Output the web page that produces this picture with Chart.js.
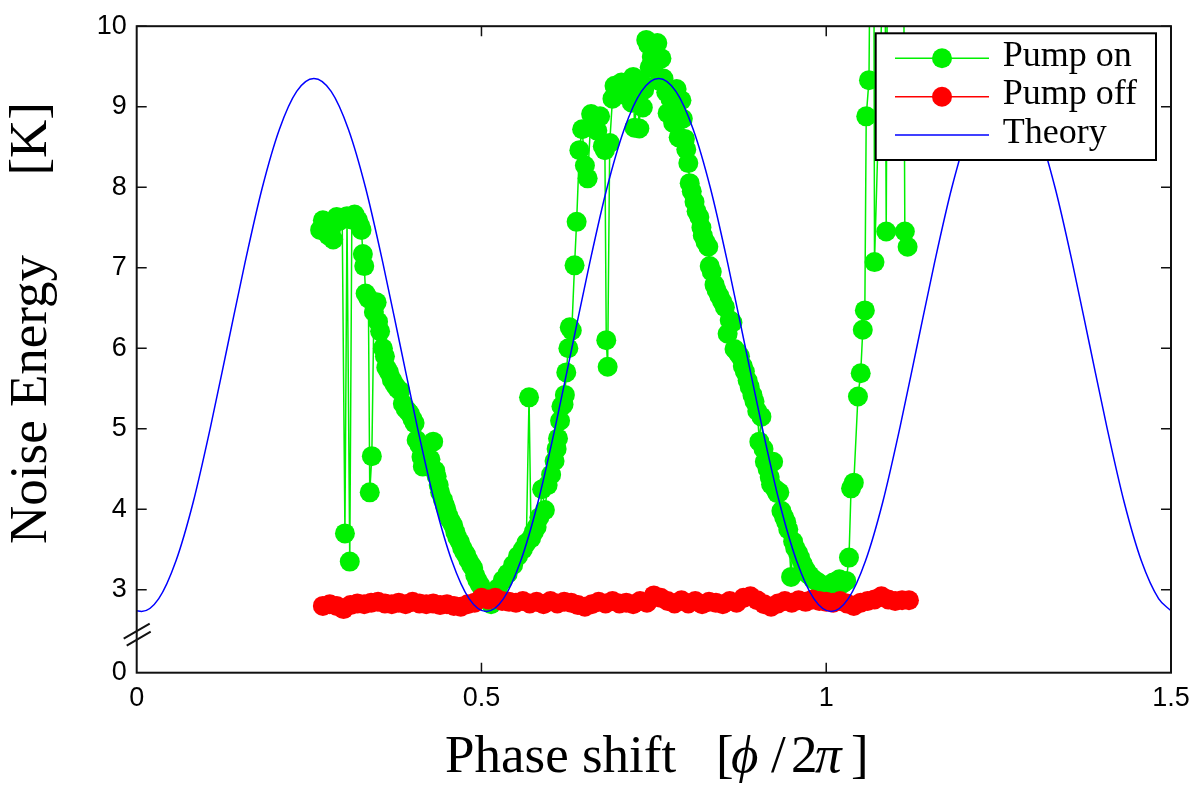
<!DOCTYPE html>
<html><head><meta charset="utf-8">
<script src="https://cdn.jsdelivr.net/npm/chart.js@4.4.1/dist/chart.umd.min.js"></script>
<style>html,body{margin:0;padding:0;background:#fff}#wrap{width:1200px;height:789px;position:relative}canvas{display:block}</style>
</head><body><div id="wrap"><canvas id="c" width="1200" height="789"></canvas></div>
<script>
// ---------- data ----------
const xTicks = [0, 0.5, 1, 1.5];
const yTicks = [3, 4, 5, 6, 7, 8, 9, 10];
const yBreakValue = 1.97;        // axis bottom, labelled "0" (broken axis)
const yBreakLabel = '0';
const seriesNames = ['Pump on', 'Pump off', 'Theory'];
const xTitleMain = 'Phase shift';
const yTitleMain = 'Noise Energy';
const yTitleUnit = '[K]';

const theoryX = [0, 0.007, 0.032, 0.057, 0.082, 0.107, 0.132, 0.157, 0.182, 0.207, 0.232, 0.257,
  0.282, 0.307, 0.332, 0.357, 0.382, 0.407, 0.432, 0.457, 0.482, 0.507,
  0.532, 0.557, 0.582, 0.607, 0.632, 0.657, 0.682, 0.707, 0.732, 0.757,
  0.782, 0.807, 0.832, 0.857, 0.882, 0.907, 0.932, 0.957, 0.982, 1.007,
  1.032, 1.057, 1.082, 1.107, 1.132, 1.157, 1.182, 1.207, 1.232, 1.257,
  1.282, 1.307, 1.332, 1.357, 1.382, 1.407, 1.432, 1.457, 1.482, 1.5];
const theoryY = [2.74, 2.73, 2.89, 3.36, 4.09, 5.02, 6.04, 7.06, 7.99, 8.72, 9.19, 9.35,
  9.19, 8.72, 7.99, 7.06, 6.04, 5.02, 4.09, 3.36, 2.89, 2.73,
  2.89, 3.36, 4.09, 5.02, 6.04, 7.06, 7.99, 8.72, 9.19, 9.35,
  9.19, 8.72, 7.99, 7.06, 6.04, 5.02, 4.09, 3.36, 2.89, 2.73,
  2.89, 3.36, 4.09, 5.02, 6.04, 7.06, 7.99, 8.72, 9.19, 9.35,
  9.19, 8.72, 7.99, 7.06, 6.04, 5.02, 4.09, 3.36, 2.89, 2.74];

const pumpOnX = [0.266, 0.270, 0.274, 0.278, 0.282, 0.285, 0.290, 0.294, 0.298, 0.302, 0.305, 0.309,
  0.312, 0.316, 0.321, 0.324, 0.326, 0.328, 0.330, 0.332, 0.336, 0.338, 0.341, 0.344,
  0.348, 0.350, 0.353, 0.357, 0.360, 0.362, 0.366, 0.370, 0.374, 0.378, 0.382, 0.386,
  0.390, 0.393, 0.396, 0.400, 0.403, 0.406, 0.410, 0.413, 0.415, 0.418, 0.422, 0.426,
  0.430, 0.433, 0.435, 0.438, 0.440, 0.444, 0.447, 0.449, 0.452, 0.455, 0.459, 0.462,
  0.465, 0.469, 0.472, 0.475, 0.478, 0.481, 0.485, 0.488, 0.491, 0.494, 0.498, 0.502,
  0.506, 0.510, 0.514, 0.518, 0.524, 0.531, 0.538, 0.546, 0.553, 0.560, 0.565, 0.569,
  0.572, 0.576, 0.580, 0.584, 0.588, 0.592, 0.596, 0.601, 0.606, 0.609, 0.611, 0.614,
  0.616, 0.619, 0.621, 0.623, 0.626, 0.628, 0.631, 0.635, 0.638, 0.642, 0.646, 0.650,
  0.654, 0.659, 0.664, 0.668, 0.672, 0.676, 0.679, 0.681, 0.683, 0.686, 0.690, 0.693,
  0.698, 0.703, 0.707, 0.710, 0.714, 0.718, 0.720, 0.722, 0.726, 0.729, 0.731, 0.734,
  0.736, 0.739, 0.742, 0.744, 0.747, 0.749, 0.752, 0.755, 0.758, 0.761, 0.764, 0.768,
  0.770, 0.774, 0.778, 0.780, 0.783, 0.786, 0.790, 0.792, 0.795, 0.797, 0.800, 0.802,
  0.805, 0.809, 0.812, 0.816, 0.819, 0.821, 0.825, 0.829, 0.831, 0.834, 0.838, 0.841,
  0.845, 0.849, 0.853, 0.857, 0.860, 0.864, 0.867, 0.871, 0.875, 0.879, 0.882, 0.886,
  0.889, 0.893, 0.896, 0.900, 0.903, 0.906, 0.909, 0.911, 0.915, 0.918, 0.920, 0.923,
  0.926, 0.929, 0.932, 0.935, 0.939, 0.942, 0.945, 0.949, 0.952, 0.955, 0.959, 0.962,
  0.966, 0.970, 0.973, 0.976, 0.980, 0.985, 0.990, 0.995, 1.000, 1.005, 1.010, 1.015,
  1.019, 1.024, 1.029, 1.033, 1.036, 1.040, 1.046, 1.050, 1.053, 1.056, 1.058, 1.062,
  1.064, 1.069, 1.070, 1.085, 1.087, 1.089, 1.112, 1.114, 1.118];
const pumpOnY = [7.47, 7.59, 7.55, 7.40, 7.48, 7.35, 7.63, 7.58, 7.62, 3.70, 7.64, 3.35,
  7.60, 7.66, 7.59, 7.52, 7.47, 7.17, 7.02, 6.68, 6.62, 4.21, 4.66, 6.45,
  6.57, 6.33, 6.21, 6.00, 5.90, 5.76, 5.70, 5.61, 5.55, 5.50, 5.47, 5.31,
  5.25, 5.22, 5.19, 5.12, 5.07, 4.86, 4.80, 4.65, 4.53, 4.58, 4.60, 4.62,
  4.84, 4.48, 4.41, 4.30, 4.21, 4.12, 4.05, 4.00, 3.92, 3.86, 3.80, 3.72,
  3.65, 3.59, 3.52, 3.47, 3.43, 3.37, 3.31, 3.27, 3.18, 3.12, 3.06, 3.00,
  2.95, 2.88, 2.82, 2.90, 3.02, 3.12, 3.20, 3.31, 3.42, 3.50, 3.58, 5.39,
  3.64, 3.72, 3.78, 3.90, 4.25, 3.99, 4.30, 4.43, 4.60, 4.75, 4.88, 5.10,
  5.28, 5.30, 5.42, 5.70, 6.00, 6.26, 6.22, 7.03, 7.57, 8.46, 8.72, 8.27,
  8.11, 8.91, 8.85, 8.70, 8.88, 8.51, 8.46, 6.10, 5.77, 8.55, 9.10, 9.26,
  9.22, 9.30, 9.15, 9.28, 9.30, 9.05, 9.37, 8.74, 9.15, 8.73, 9.32, 8.99,
  9.21, 9.83, 9.77, 9.49, 9.62, 9.51, 9.70, 9.79, 9.32, 9.60, 9.35, 9.18,
  8.92, 9.10, 8.80, 9.05, 9.22, 8.62, 9.08, 8.85, 8.60, 8.47, 8.30, 8.05,
  7.95, 7.82, 7.70, 7.63, 7.50, 7.40, 7.32, 7.26, 7.02, 6.95, 6.79, 6.72,
  6.65, 6.58, 6.51, 6.18, 6.35, 6.32, 5.99, 5.95, 5.90, 5.78, 5.71, 5.60,
  5.52, 5.42, 5.34, 5.22, 4.84, 5.15, 4.75, 4.59, 4.50, 4.40, 4.31, 4.59,
  4.25, 4.20, 4.21, 3.98, 3.90, 3.84, 3.75, 3.16, 3.60, 3.52, 3.46, 3.40,
  3.32, 3.25, 3.20, 3.18, 3.14, 3.11, 3.08, 3.05, 3.04, 3.04, 3.09, 3.10,
  3.13, 3.08, 3.11, 3.40, 4.26, 4.33, 5.40, 5.69, 6.23, 6.47, 8.88, 9.33,
  11.5, 11.5, 7.07, 11.5, 7.45, 11.5, 11.5, 7.45, 7.26];

const pumpOffX = [0.27, 0.28, 0.29, 0.30, 0.31, 0.32, 0.33, 0.34, 0.35, 0.36, 0.37, 0.38,
  0.39, 0.40, 0.41, 0.42, 0.43, 0.44, 0.45, 0.46, 0.47, 0.48, 0.49, 0.50,
  0.51, 0.52, 0.53, 0.54, 0.55, 0.56, 0.57, 0.58, 0.59, 0.60, 0.61, 0.62,
  0.63, 0.64, 0.65, 0.66, 0.67, 0.68, 0.69, 0.70, 0.71, 0.72, 0.73, 0.74,
  0.75, 0.76, 0.77, 0.78, 0.79, 0.80, 0.81, 0.82, 0.83, 0.84, 0.85, 0.86,
  0.87, 0.88, 0.89, 0.90, 0.91, 0.92, 0.93, 0.94, 0.95, 0.96, 0.97, 0.98,
  0.99, 1.00, 1.01, 1.02, 1.03, 1.04, 1.05, 1.06, 1.07, 1.08, 1.09, 1.10,
  1.11, 1.12];
const pumpOffY = [2.80, 2.82, 2.80, 2.76, 2.81, 2.83, 2.82, 2.84, 2.85, 2.83, 2.82, 2.84,
  2.82, 2.85, 2.83, 2.82, 2.83, 2.81, 2.82, 2.80, 2.79, 2.82, 2.84, 2.90,
  2.88, 2.90, 2.86, 2.85, 2.84, 2.86, 2.83, 2.85, 2.82, 2.86, 2.83, 2.85,
  2.84, 2.81, 2.79, 2.82, 2.85, 2.83, 2.86, 2.83, 2.84, 2.82, 2.86, 2.84,
  2.93, 2.90, 2.86, 2.83, 2.87, 2.83, 2.86, 2.82, 2.85, 2.84, 2.82, 2.86,
  2.84, 2.90, 2.92, 2.87, 2.82, 2.79, 2.83, 2.86, 2.84, 2.87, 2.85, 2.88,
  2.86, 2.85, 2.84, 2.86, 2.83, 2.80, 2.84, 2.86, 2.88, 2.92, 2.88, 2.86,
  2.87, 2.87];

// ---------- styles ----------
const GREEN = '#00f000', RED = '#ff0000', BLUE = '#0000ff';
const pairs = (xs, ys) => xs.map((x, i) => ({x: x, y: ys[i]}));

const boxPlugin = {
  id: 'matlabBox',
  afterDatasetsDraw(chart) {
    const ctx = chart.ctx, a = chart.chartArea;
    const xs = chart.scales.x, ys = chart.scales.y;
    ctx.save();
    // frame
    ctx.strokeStyle = '#111'; ctx.lineWidth = 2;
    ctx.strokeRect(a.left, a.top, a.right - a.left, a.bottom - a.top);
    // inward ticks
    ctx.lineWidth = 1.5;
    ctx.beginPath();
    yTicks.forEach(v => {
      const p = ys.getPixelForValue(v);
      ctx.moveTo(a.left, p); ctx.lineTo(a.left + 10, p);
      ctx.moveTo(a.right, p); ctx.lineTo(a.right - 10, p);
    });
    xTicks.slice(1, -1).forEach(v => {
      const p = xs.getPixelForValue(v);
      ctx.moveTo(p, a.bottom); ctx.lineTo(p, a.bottom - 10);
      ctx.moveTo(p, a.top); ctx.lineTo(p, a.top + 10);
    });
    ctx.stroke();
    // axis break marks
    const by = (ys.getPixelForValue(3) + a.bottom) / 2 - 0.5;
    ctx.lineWidth = 2;
    ctx.beginPath();
    ctx.moveTo(a.left - 13, by + 8); ctx.lineTo(a.left + 13, by - 7);
    ctx.moveTo(a.left - 10, by + 15); ctx.lineTo(a.left + 14, by + 1);
    ctx.stroke();

    // legend box
    const L = 875.7, T = 33.3, R = 1156, B = 160;
    ctx.fillStyle = '#fff';
    ctx.fillRect(L, T, R - L, B - T);
    ctx.strokeStyle = '#000'; ctx.lineWidth = 2;
    ctx.strokeRect(L, T, R - L, B - T);
    const rows = [
      {y: 58.3, c: GREEN, marker: true},
      {y: 96.7, c: RED, marker: true},
      {y: 135, c: BLUE, marker: false}
    ];
    ctx.font = '36px "Liberation Serif"';
    ctx.textBaseline = 'alphabetic';
    ctx.textAlign = 'left';
    rows.forEach((r, i) => {
      ctx.strokeStyle = r.c; ctx.lineWidth = 1.5;
      ctx.beginPath(); ctx.moveTo(895, r.y); ctx.lineTo(989, r.y); ctx.stroke();
      if (r.marker) {
        ctx.fillStyle = r.c;
        ctx.beginPath(); ctx.arc(942, r.y, 10, 0, Math.PI * 2); ctx.fill();
      }
      ctx.fillStyle = '#000';
      ctx.fillText(seriesNames[i], 1002.7, r.y + 7.5);
    });
    ctx.restore();
  },
  afterDraw(chart) {
    const ctx = chart.ctx;
    ctx.save();
    ctx.fillStyle = '#000';
    ctx.textBaseline = 'alphabetic';
    ctx.textAlign = 'left';
    // x title
    const up = '53px "Liberation Serif"', it = 'italic 53px "Liberation Serif"';
    ctx.font = up; ctx.fillText(xTitleMain, 445, 772);
    ctx.fillText('[', 716, 772);
    ctx.font = it; ctx.fillText('\u03D5', 731, 772);
    ctx.font = up; ctx.fillText('/', 771, 772); ctx.fillText('2', 791, 772);
    ctx.font = it; ctx.fillText('\u03C0', 815, 772);
    ctx.font = up; ctx.fillText(']', 851, 772);
    // y title (reads bottom to top)
    ctx.translate(46, 544);
    ctx.rotate(-Math.PI / 2);
    ctx.font = up;
    ctx.fillText(yTitleMain, 0, 0);
    ctx.fillText(yTitleUnit, 442 - ctx.measureText(yTitleUnit).width, 0);
    ctx.restore();
  }
};

new Chart(document.getElementById('c'), {
  type: 'line',
  data: {
    datasets: [
      {label: seriesNames[2], data: pairs(theoryX, theoryY), borderColor: BLUE, borderWidth: 1.5,
       pointRadius: 0, cubicInterpolationMode: 'monotone', order: 0},
      {label: seriesNames[1], data: pairs(pumpOffX, pumpOffY), borderColor: RED, borderWidth: 1.5,
       pointRadius: 10, pointBackgroundColor: RED, pointBorderWidth: 0, pointBorderColor: RED, order: 1},
      {label: seriesNames[0], data: pairs(pumpOnX, pumpOnY), borderColor: GREEN, borderWidth: 1.5,
       pointRadius: 10, pointBackgroundColor: GREEN, pointBorderWidth: 0, pointBorderColor: GREEN,
       clip: 0, order: 2}
    ]
  },
  options: {
    responsive: false,
    devicePixelRatio: 1,
    animation: false,
    layout: {padding: {top: 16.7, right: 29, left: 0, bottom: 0}},
    plugins: {legend: {display: false}, tooltip: {enabled: false}},
    scales: {
      x: {
        type: 'linear', min: 0, max: 1.5,
        afterBuildTicks: s => { s.ticks = xTicks.map(v => ({value: v})); },
        afterFit: s => { s.height = 116.3; },
        ticks: {font: {family: 'Liberation Sans', size: 27}, color: '#000', padding: 10,
                maxRotation: 0, autoSkip: false, callback: v => String(v)},
        grid: {display: false, drawTicks: false},
        border: {display: false}
      },
      y: {
        type: 'linear', min: yBreakValue, max: 10,
        afterBuildTicks: s => { s.ticks = [yBreakValue].concat(yTicks).map(v => ({value: v})); },
        afterFit: s => { s.width = 136.7; },
        ticks: {font: {family: 'Liberation Sans', size: 27}, color: '#000', padding: 10,
                callback: v => (v === yBreakValue ? yBreakLabel : String(v))},
        grid: {display: false, drawTicks: false},
        border: {display: false}
      }
    }
  },
  plugins: [boxPlugin]
});
</script>
</body></html>
